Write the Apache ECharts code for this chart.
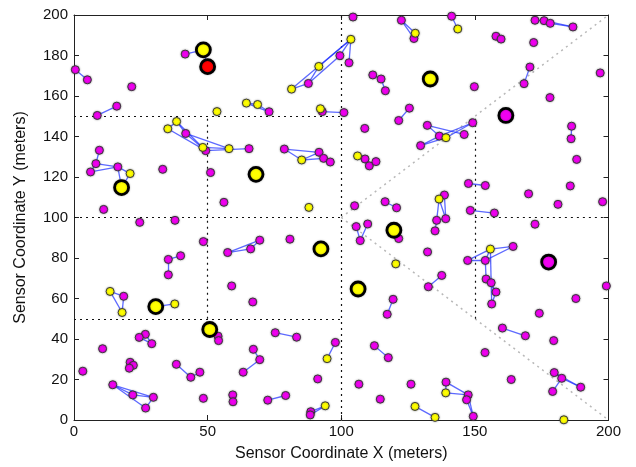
<!DOCTYPE html>
<html>
<head>
<meta charset="utf-8">
<script src="https://cdn.jsdelivr.net/npm/echarts@6/dist/echarts.min.js"></script>
<style>
  html, body { margin: 0; padding: 0; background: #fff; }
  #chart { width: 636px; height: 467px; }
</style>
</head>
<body>
<div id="chart"></div>
<script>
// Unlocalized sensors (magenta), localized sensors (yellow), anchors (large)
const magentaNodes = [
  [0.5,173],[5,168],[21.6,164.6],[8.7,150.4],[16,155],[41.6,180.7],[41.8,141.5],[49.3,133],
  [65.5,134],[73,152.2],[92.9,152.3],[101,151.8],[78.7,133.8],[91.7,132.2],[93.4,129.2],[95.9,127.4],
  [87.7,166.2],[99.5,179.9],[102.9,176.4],[104.4,199],[122.5,197.4],[127.2,188.4],[111.8,170.4],
  [114.9,168.4],[116.5,162.6],[125.5,154],[121.5,147.9],[108.8,144],[132.2,145.5],[129.7,135.5],
  [141.3,199.4],[172.5,197.4],[175.9,197.2],[178.2,195.9],[186.7,194.1],[157.9,189.5],[159.8,188.1],
  [172,186.4],[170.6,174.3],[168.4,166.1],[196.9,171.4],[149.8,164.6],[178.1,159.2],[186.2,145.1],
  [186,138.9],[149.2,146.8],[146,141],[136.7,140.2],
  [9.5,133.2],[8.2,126.6],[6.2,122.5],[16.4,125],[33.2,123.8],[51.1,122.2],[11.1,104],[24.6,97.6],
  [37.8,98.6],[56.1,107.5],[48.4,88.1],[35.3,79.3],[39.9,81.1],[35.3,71.7],[57.5,82.7],[66.1,84.5],
  [69.5,88.8],[80.8,89.3],[108.9,128.9],[110.5,125.5],[113,127.6],[105,105.8],[116.4,107.8],
  [120.7,104.8],[105.6,95.5],[109.9,96.8],[107.1,88.6],[121.5,89.6],[132.3,83],
  [147.6,116.8],[153.9,115.8],[188.1,128.7],[185.7,115.6],[170.1,111.7],[181.1,106.5],[197.8,107.8],
  [148.3,103.5],[157.3,102.2],[172.5,96.7],[138.6,111.1],[135.7,98.6],[139.1,99.4],[135.1,93.4],
  [164.3,85.7],[147.3,78.8],[153.9,78.8],[137.6,71.4],[154.2,69.6],[156.1,67.8],[157.9,63.2],[156.3,57.3],
  [132.6,65.8],[199.2,66.2],[187.8,60],[174.1,52.7],[160.3,45.4],[168.9,41.6],[179.5,39.2],[153.8,33.3],
  [163.6,20],[179.7,23.4],[182.5,20.6],[189.6,16.2],[179.1,14.1],[139.2,18.7],[147.5,12.4],[146.9,10],
  [149.4,1.8],
  [18.6,61.1],[59,66.2],[66.9,58.3],[53.9,41.4],[54.1,39.2],[26.7,42.3],[24.4,40.8],[29.1,37.7],
  [10.7,35.2],[67.1,34.9],[3.3,24.1],[21,28.5],[22.2,27],[20.7,25.6],[38.3,27.5],[43.7,21.1],
  [47.1,23.6],[63.3,23.6],[69.5,29.8],[14.5,17.4],[22,12.4],[29.7,11.2],[26.8,5.9],[48.4,10.7],
  [59.4,12.4],[59.5,9],
  [119.4,59.6],[117.2,52.2],[75.3,43.1],[83.3,40.9],[97.8,38.3],[112.4,36.7],[117.6,30.8],[91.2,20.3],
  [106.6,17.7],[126.1,17.7],[114.6,10.3],[72.5,9.8],[79.2,12.1],[88.6,4.1],[88.4,2.5]
];

const yellowNodes = [
  [53.5,152.3],[64.5,156.5],[68.7,155.8],[38.4,147.4],[35.1,143.8],[48.2,134.6],[58,134],[85.2,128.4],
  [92.2,153.7],[81.4,163.4],[91.6,174.6],[103.6,188],[127.7,191],[143.6,193.1],[139.2,139.4],[21,121.7],
  [87.9,105],[106.1,130.4],[120.4,77.1],[136.6,109.1],[155.8,84.4],[13.5,63.5],[18,53.1],[37.7,57.3],
  [94.7,30.3],[94,7],[127.6,6.7],[135.1,1.3],[139.1,13.4],[183.3,0.1]
];

const anchorYellow = [
  [48.4,182.8],[17.8,114.8],[68.1,121.3],[92.4,84.5],[30.6,56],[50.8,44.7],[106.3,64.7],[119.7,93.7],[133.3,168.4]
];
const anchorMagenta = [[161.6,150.4],[177.6,78]];
const anchorRed = [[50,174.5]];

// Estimated links between neighbouring sensors: [x1, y1, x2, y2]
const links = [
  [0.5,173,5,168],[8.7,150.4,16,155],[41.6,180.7,48.4,182.8],[48.4,182.8,50,174.5],
  [35.1,143.8,38.4,147.4],[38.4,147.4,41.8,141.5],[35.1,143.8,49.3,133],[38.4,147.4,49.3,133],
  [41.8,141.5,58,134],[48.2,134.6,58,134],[49.3,133,65.5,134],[41.8,141.5,49.3,133],
  [64.5,156.5,68.7,155.8],[64.5,156.5,73,152.2],[68.7,155.8,73,152.2],[92.9,152.3,101,151.8],
  [81.4,163.4,103.6,188],[81.4,163.4,87.7,166.2],[87.7,166.2,91.6,174.6],[91.6,174.6,103.6,188],
  [87.7,166.2,99.5,179.9],[99.5,179.9,103.6,188],[103.6,188,102.9,176.4],
  [78.7,133.8,91.7,132.2],[78.7,133.8,85.2,128.4],[85.2,128.4,91.7,132.2],[85.2,128.4,93.4,129.2],
  [91.7,132.2,95.9,127.4],[93.4,129.2,95.9,127.4],
  [122.5,197.4,127.7,191],[122.5,197.4,127.2,188.4],[111.8,170.4,114.9,168.4],[114.9,168.4,116.5,162.6],
  [121.5,147.9,125.5,154],[106.1,130.4,108.9,128.9],[108.9,128.9,110.5,125.5],[110.5,125.5,113,127.6],
  [106.1,130.4,110.5,125.5],
  [132.2,145.5,136.7,140.2],[132.2,145.5,146,141],[136.7,140.2,149.2,146.8],[139.2,139.4,149.2,146.8],
  [129.7,135.5,136.7,140.2],[129.7,135.5,139.2,139.4],
  [157.9,189.5,159.8,188.1],[141.3,199.4,143.6,193.1],[172.5,197.4,175.9,197.2],[175.9,197.2,186.7,194.1],
  [178.2,195.9,186.7,194.1],[170.6,174.3,168.4,166.1],[186.2,145.1,186,138.9],
  [9.5,133.2,8.2,126.6],[8.2,126.6,6.2,122.5],[8.2,126.6,16.4,125],[6.2,122.5,16.4,125],
  [16.4,125,21,121.7],[16.4,125,17.8,114.8],[21,121.7,17.8,114.8],
  [35.3,79.3,39.9,81.1],[35.3,79.3,35.3,71.7],[57.5,82.7,66.1,84.5],[57.5,82.7,69.5,88.8],
  [66.1,84.5,69.5,88.8],[116.4,107.8,120.7,104.8],[105.6,95.5,107.1,88.6],[109.9,96.8,107.1,88.6],
  [119.7,93.7,121.5,89.6],
  [147.6,116.8,153.9,115.8],[148.3,103.5,157.3,102.2],[136.6,109.1,138.6,111.1],[138.6,111.1,139.1,99.4],
  [136.6,109.1,135.7,98.6],[135.7,98.6,139.1,99.4],[136.6,109.1,139.1,99.4],[135.7,98.6,135.1,93.4],
  [147.3,78.8,153.9,78.8],[153.9,78.8,155.8,84.4],[155.8,84.4,164.3,85.7],[153.9,78.8,164.3,85.7],
  [147.3,78.8,155.8,84.4],[153.9,78.8,154.2,69.6],[155.8,84.4,156.1,67.8],[154.2,69.6,157.9,63.2],
  [156.1,67.8,157.9,63.2],[156.1,67.8,156.3,57.3],[157.9,63.2,156.3,57.3],[137.6,71.4,132.6,65.8],
  [160.3,45.4,168.9,41.6],[179.7,23.4,182.5,20.6],[182.5,20.6,189.6,16.2],[182.5,20.6,179.1,14.1],
  [179.7,23.4,189.6,16.2],[139.2,18.7,139.1,13.4],[139.2,18.7,147.5,12.4],[139.1,13.4,147.5,12.4],
  [147.5,12.4,146.9,10],[146.9,10,149.4,1.8],[147.5,12.4,149.4,1.8],[127.6,6.7,135.1,1.3],
  [13.5,63.5,18.6,61.1],[13.5,63.5,18,53.1],[18.6,61.1,18,53.1],[30.6,56,37.7,57.3],
  [50.8,44.7,53.9,41.4],[53.9,41.4,54.1,39.2],[24.4,40.8,26.7,42.3],[26.7,42.3,29.1,37.7],
  [24.4,40.8,29.1,37.7],[21,28.5,22.2,27],[22.2,27,20.7,25.6],[21,28.5,20.7,25.6],
  [38.3,27.5,43.7,21.1],[43.7,21.1,47.1,23.6],[63.3,23.6,69.5,29.8],[67.1,34.9,69.5,29.8],
  [14.5,17.4,22,12.4],[14.5,17.4,29.7,11.2],[22,12.4,29.7,11.2],[29.7,11.2,26.8,5.9],
  [14.5,17.4,26.8,5.9],[59.4,12.4,59.5,9],
  [119.4,59.6,117.2,52.2],[75.3,43.1,83.3,40.9],[97.8,38.3,94.7,30.3],[112.4,36.7,117.6,30.8],
  [72.5,9.8,79.2,12.1],[88.6,4.1,94,7],[88.4,2.5,94,7]
];

// Region partition guides
const gridGuides = [
  [100,0,100,200],[50,50,50,150],[150,50,150,150],
  [0,150,100,150],[0,100,100,100],[150,100,200,100],[0,50,100,50]
];
const diagonalGuides = [[100,100,200,200],[100,100,200,0]];

const xTicks = { min: 0, max: 200, interval: 50 };
const yTicks = { min: 0, max: 200, interval: 20 };

const toSeg = s => ({ coords: [[s[0], s[1]], [s[2], s[3]]] });
const FONT = '"Liberation Sans", Arial, sans-serif';

const boxAxis = (extra) => Object.assign({
  type: 'value',
  axisLine: { show: true, onZero: false, lineStyle: { color: '#222', width: 1 } },
  axisTick: { show: true, inside: true, length: 5, lineStyle: { color: '#222' } },
  splitLine: { show: false }
}, extra);

const smallNode = (fill) => ({
  color: fill, borderColor: '#3a3a3a', borderWidth: 1, opacity: 1,
  shadowBlur: 2, shadowColor: 'rgba(0,0,0,0.35)'
});
const anchorNode = (fill) => ({
  color: fill, borderColor: '#000', borderWidth: 2.8, opacity: 1,
  shadowBlur: 2, shadowColor: 'rgba(0,0,0,0.3)'
});

const chart = echarts.init(document.getElementById('chart'), null, { renderer: 'canvas' });
chart.setOption({
  animation: false,
  backgroundColor: '#fff',
  grid: { left: 74, right: 27.5, top: 15, bottom: 45 },
  xAxis: [
    boxAxis(Object.assign({}, xTicks, {
      position: 'bottom',
      name: 'Sensor Coordinate X (meters)', nameLocation: 'middle', nameGap: 26,
      nameTextStyle: { fontFamily: FONT, fontSize: 16, color: '#111' },
      axisLabel: { fontFamily: FONT, fontSize: 15, color: '#111', margin: 4 }
    })),
    boxAxis(Object.assign({}, xTicks, { position: 'top', axisLabel: { show: false } }))
  ],
  yAxis: [
    boxAxis(Object.assign({}, yTicks, {
      position: 'left',
      name: 'Sensor Coordinate Y (meters)', nameLocation: 'middle', nameGap: 45,
      nameTextStyle: { fontFamily: FONT, fontSize: 16, color: '#111' },
      axisLabel: { fontFamily: FONT, fontSize: 15, color: '#111', margin: 6 }
    })),
    boxAxis(Object.assign({}, yTicks, { position: 'right', axisLabel: { show: false } }))
  ],
  series: [
    {
      type: 'lines', coordinateSystem: 'cartesian2d', z: 1, silent: true,
      data: diagonalGuides.map(toSeg),
      lineStyle: { color: '#b8b8b8', width: 1.5, type: [2, 4], opacity: 1 }
    },
    {
      type: 'lines', coordinateSystem: 'cartesian2d', z: 1, silent: true,
      data: gridGuides.map(toSeg),
      lineStyle: { color: '#111', width: 1.2, type: [2, 4], opacity: 1 }
    },
    {
      type: 'lines', coordinateSystem: 'cartesian2d', z: 2, silent: true,
      data: links.map(toSeg),
      lineStyle: { color: '#1f2fff', width: 1.3, opacity: 0.72 }
    },
    { type: 'scatter', z: 3, data: magentaNodes, symbolSize: 8, itemStyle: smallNode('#f000f0') },
    { type: 'scatter', z: 3, data: yellowNodes, symbolSize: 8, itemStyle: smallNode('#ffff00') },
    { type: 'scatter', z: 4, data: anchorYellow, symbolSize: 14, itemStyle: anchorNode('#ffff00') },
    { type: 'scatter', z: 4, data: anchorMagenta, symbolSize: 14, itemStyle: anchorNode('#f000f0') },
    { type: 'scatter', z: 4, data: anchorRed, symbolSize: 14, itemStyle: anchorNode('#ff0000') }
  ]
});
</script>
</body>
</html>
